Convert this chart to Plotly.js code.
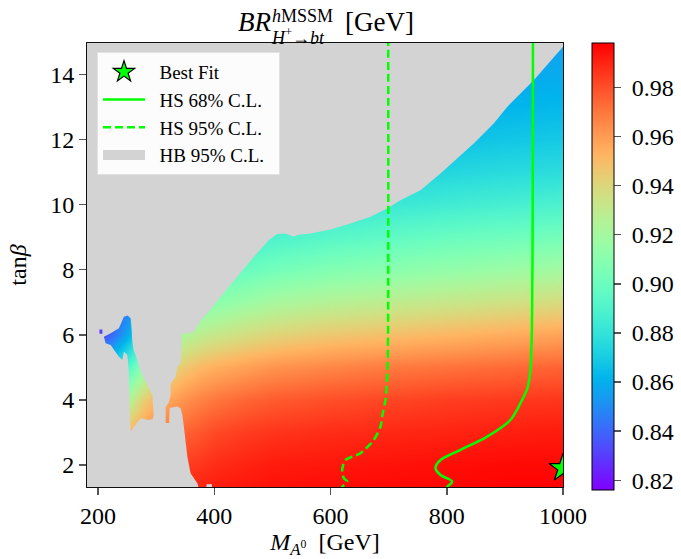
<!DOCTYPE html>
<html>
<head>
<meta charset="utf-8">
<script src="https://cdn.plot.ly/plotly-3.0.1.min.js"></script>
<style>html,body{margin:0;padding:0;background:#fff}</style>
</head>
<body>
<div id="chart" style="width:681px;height:559px"></div>
<script>
// Grid of BR(H+ -> bt) values in the hMSSM, one column per M_A value, rows tan(beta) = 1..15
const gridMA = [180, 200, 225, 250, 275, 300, 325, 350, 375, 400, 450, 500, 600, 700, 800, 900, 1000];
const gridTanB = [1, 2, 3, 4, 5, 6, 7, 8, 9, 10, 11, 12, 13, 14, 15];
const brByMA = [
  [0.955, 0.940, 0.915, 0.885, 0.852, 0.822, 0.818, 0.818, 0.818, 0.818, 0.818, 0.818, 0.818, 0.818, 0.818],
  [0.962, 0.947, 0.925, 0.895, 0.862, 0.828, 0.820, 0.820, 0.820, 0.820, 0.820, 0.820, 0.820, 0.820, 0.820],
  [0.970, 0.957, 0.937, 0.910, 0.875, 0.842, 0.830, 0.826, 0.824, 0.823, 0.822, 0.822, 0.822, 0.822, 0.822],
  [0.977, 0.966, 0.950, 0.922, 0.890, 0.858, 0.842, 0.834, 0.830, 0.828, 0.827, 0.826, 0.826, 0.826, 0.826],
  [0.982, 0.973, 0.960, 0.942, 0.912, 0.880, 0.858, 0.845, 0.838, 0.834, 0.832, 0.831, 0.830, 0.830, 0.830],
  [0.985, 0.978, 0.966, 0.953, 0.930, 0.900, 0.877, 0.862, 0.852, 0.846, 0.842, 0.840, 0.839, 0.838, 0.838],
  [0.988, 0.982, 0.971, 0.958, 0.940, 0.914, 0.891, 0.876, 0.865, 0.857, 0.852, 0.849, 0.847, 0.846, 0.845],
  [0.990, 0.984, 0.975, 0.963, 0.946, 0.924, 0.903, 0.888, 0.876, 0.866, 0.860, 0.855, 0.852, 0.850, 0.848],
  [0.991, 0.986, 0.978, 0.967, 0.951, 0.929, 0.908, 0.892, 0.879, 0.869, 0.862, 0.857, 0.853, 0.851, 0.849],
  [0.993, 0.988, 0.981, 0.970, 0.954, 0.932, 0.911, 0.895, 0.882, 0.871, 0.863, 0.857, 0.853, 0.851, 0.849],
  [0.994, 0.990, 0.984, 0.974, 0.958, 0.937, 0.916, 0.899, 0.885, 0.874, 0.865, 0.858, 0.854, 0.851, 0.849],
  [0.995, 0.992, 0.986, 0.977, 0.962, 0.941, 0.921, 0.903, 0.889, 0.877, 0.867, 0.860, 0.856, 0.853, 0.850],
  [0.996, 0.993, 0.988, 0.980, 0.966, 0.946, 0.926, 0.908, 0.893, 0.880, 0.870, 0.863, 0.858, 0.855, 0.852],
  [0.997, 0.994, 0.989, 0.982, 0.969, 0.949, 0.929, 0.911, 0.896, 0.883, 0.872, 0.865, 0.860, 0.856, 0.853],
  [0.997, 0.995, 0.990, 0.984, 0.971, 0.952, 0.932, 0.914, 0.899, 0.885, 0.874, 0.866, 0.861, 0.857, 0.854],
  [0.998, 0.996, 0.991, 0.985, 0.973, 0.955, 0.935, 0.917, 0.901, 0.887, 0.876, 0.868, 0.862, 0.858, 0.855],
  [0.998, 0.996, 0.992, 0.986, 0.975, 0.958, 0.938, 0.920, 0.903, 0.889, 0.877, 0.869, 0.863, 0.859, 0.856]
];

// HiggsBounds 95% C.L. excluded region: outer boundary (counter-clockwise)
const hbOuterMA = [150, 378.0, 370.8, 359.2, 353.6, 347.7, 345.0, 342.0, 336.4, 323.1, 322.3, 316.3, 316.3, 321.4,
  324.9, 324.9, 333.4, 336.4, 342.0, 343.3, 343.8, 359.2, 364.9, 367.8, 382.1, 388.0, 410.8, 439.6, 468.1,
  493.9, 508.3, 522.6, 536.9, 542.7, 565.6, 600.0, 634.4, 668.8, 697.5, 720.4, 754.8, 789.2, 846.4, 880.8,
  903.9, 949.6, 1001.2, 1050, 1050, 150];
const hbOuterTanB = [1.0, 1.0, 1.438, 1.745, 2.255, 3.176, 3.536, 3.741, 3.791, 3.751, 3.290, 3.290, 3.781, 3.904,
  4.150, 4.488, 4.712, 5.019, 5.133, 5.532, 6.023, 6.063, 6.094, 6.199, 6.555, 6.659, 7.169, 7.783, 8.398,
  8.911, 9.095, 9.116, 9.012, 9.064, 9.116, 9.239, 9.423, 9.626, 9.884, 10.139, 10.446, 10.959, 11.880, 12.494,
  13.004, 13.824, 14.880, 14.9, 16, 16];
// small excluded notch at the bottom edge
const hbNotchMA = [385.0, 399.0, 395.5, 386.8];
const hbNotchTanB = [1.0, 1.0, 1.416, 1.401];
// allowed island near M_A ~ 250 GeV (clockwise, cut out of the excluded region)
const islandMA = [244.5, 250.9, 256.1, 257.8, 259.0, 261.2, 264.7, 273.3, 284.8, 293.4, 295.6, 293.9, 287.5,
  273.3, 261.7, 256.1, 255.2, 254.3, 253.1, 250.4, 244.5, 241.8, 235.9, 221.7, 213.1, 210.1, 221.7, 235.9];
const islandTanB = [6.555, 6.592, 6.506, 6.146, 5.787, 5.532, 5.378, 4.866, 4.457, 4.150, 3.536, 3.413, 3.382,
  3.434, 3.176, 3.023, 3.382, 3.637, 4.866, 5.378, 5.480, 5.225, 5.326, 5.685, 5.738, 5.940, 6.045, 6.198];
// tiny allowed spot at low M_A (clockwise)
const spotMA = [202.5, 207.5, 207.5, 202.5];
const spotTanB = [6.16, 6.16, 6.03, 6.03];

// HiggsSignals contours
const hs68MA = [948.3, 948.3, 947.9, 946.5, 943.9, 938.8, 929.7, 909.5, 869.5, 823.6, 789.2, 780.6, 789.2, 809.3, 800.7, 797.0];
const hs68TanB = [15.5, 14.96, 10.14, 6.15, 4.92, 4.36, 4.00, 3.38, 2.87, 2.46, 2.15, 1.90, 1.69, 1.49, 1.32, 1.2];
const hs95MA = [699.2, 699.2, 698.0, 694.6, 689.4, 686.0, 674.5, 651.6, 625.8, 620.1, 622.9, 628.7, 620.1, 617.0];
const hs95TanB = [15.5, 7.07, 4.92, 4.00, 3.54, 3.18, 2.77, 2.36, 2.15, 1.85, 1.59, 1.49, 1.32, 1.2];

// best-fit point
const bestMA = [1000];
const bestTanB = [1.9];

const cbTicks = [0.82, 0.84, 0.86, 0.88, 0.90, 0.92, 0.94, 0.96, 0.98];
const xTicks = [200, 400, 600, 800, 1000];
const yTicks = [2, 4, 6, 8, 10, 12, 14];

// matplotlib-style "rainbow" colour map
const rainbow = [
  [0.00, 'rgb(128,0,255)'], [0.05, 'rgb(102,40,254)'], [0.10, 'rgb(77,79,252)'], [0.15, 'rgb(51,116,248)'],
  [0.20, 'rgb(26,150,242)'], [0.25, 'rgb(0,180,236)'], [0.30, 'rgb(26,206,227)'], [0.35, 'rgb(51,227,217)'],
  [0.40, 'rgb(77,242,206)'], [0.45, 'rgb(102,252,194)'], [0.50, 'rgb(128,255,180)'], [0.55, 'rgb(153,252,166)'],
  [0.60, 'rgb(179,242,150)'], [0.65, 'rgb(204,227,133)'], [0.70, 'rgb(230,206,116)'], [0.75, 'rgb(255,180,98)'],
  [0.80, 'rgb(255,150,79)'], [0.85, 'rgb(255,116,59)'], [0.90, 'rgb(255,79,40)'], [0.95, 'rgb(255,40,20)'],
  [1.00, 'rgb(255,0,0)']
];

// rows of z are tan(beta), columns are M_A
const zRows = gridTanB.map((_, j) => brByMA.map(col => col[j]));

function joinRings(rings) {
  const xs = [], ys = [];
  rings.forEach((r, i) => {
    if (i) { xs.push(null); ys.push(null); }
    xs.push(...r[0]); ys.push(...r[1]);
  });
  return [xs, ys];
}
const [hbX, hbY] = joinRings([
  [hbOuterMA, hbOuterTanB], [hbNotchMA, hbNotchTanB], [islandMA, islandTanB], [spotMA, spotTanB]
]);

const FONT = 'Liberation Serif, Times New Roman, serif';
const GREEN = 'rgb(0,255,0)';
const GRAY = '#d3d3d3';
const SP = '\u00a0\u00a0';

const traces = [
  {
    type: 'heatmap', x: gridMA, y: gridTanB, z: zRows, zsmooth: 'best',
    colorscale: rainbow, zmin: 0.816, zmax: 0.998, showlegend: false, hoverinfo: 'skip',
    colorbar: {
      x: 1.061, xanchor: 'left', xpad: 0, y: -0.007, yanchor: 'bottom', ypad: 0,
      len: 447, lenmode: 'pixels', thickness: 22, outlinewidth: 1, outlinecolor: '#000',
      tickvals: cbTicks, ticktext: cbTicks.map(v => '\u00a0' + v.toFixed(2)),
      ticks: 'outside', ticklen: 7, tickcolor: '#555', tickwidth: 1.5,
      tickfont: {family: FONT, size: 24, color: '#000'}
    }
  },
  {
    type: 'scatter', mode: 'none', x: hbX, y: hbY, fill: 'toself', fillcolor: GRAY,
    showlegend: false, hoverinfo: 'skip'
  },
  {
    // legend swatch for the excluded region
    type: 'scatter', mode: 'lines', x: [null], y: [null], line: {color: GRAY, width: 15},
    name: SP + 'HB 95% C.L.' + SP, legendgroup: 'hb', legendrank: 4
  },
  {
    type: 'scatter', mode: 'lines', x: hs68MA, y: hs68TanB,
    line: {color: GREEN, width: 2.5, shape: 'spline', smoothing: 0.8},
    name: SP + 'HS 68% C.L.' + SP, legendgroup: 'hs68', legendrank: 2
  },
  {
    type: 'scatter', mode: 'lines', x: hs95MA, y: hs95TanB,
    line: {color: GREEN, width: 2.5, dash: '8px,4px', shape: 'spline', smoothing: 0.8},
    name: SP + 'HS 95% C.L.' + SP, legendgroup: 'hs95', legendrank: 3
  },
  {
    type: 'scatter', mode: 'markers', x: bestMA, y: bestTanB,
    marker: {symbol: 'star', size: 21, color: GREEN, line: {color: '#000', width: 1.2}},
    name: SP + 'Best Fit', legendgroup: 'best', legendrank: 1
  }
];

// plot-area geometry in pixels, used to place the title pieces
const M = {l: 87, r: 118, t: 43, b: 72, autoexpand: false};
const W = 681, H = 559;
const pw = W - M.l - M.r, ph = H - M.t - M.b;
const px = v => (v - M.l) / pw;
const py = v => (H - M.b - v) / ph;

const titleParts = [
  {text: '<i>BR</i>', x: px(236), y: py(22), size: 27},
  {text: '<i>h</i>MSSM', x: px(270), y: py(15.5), size: 18},
  {text: '<i>H</i><sup>+</sup>\u2192<i>bt</i>', x: px(269), y: py(37), size: 18},
  {text: '[GeV]', x: px(343), y: py(22), size: 27}
];

const layout = {
  width: W, height: H, margin: M,
  paper_bgcolor: '#fff', plot_bgcolor: '#fff',
  font: {family: FONT, color: '#000'},
  showlegend: true,
  legend: {
    x: px(97), y: py(52), xanchor: 'left', yanchor: 'top',
    bgcolor: 'rgba(255,255,255,0.92)', bordercolor: '#e2e2e2', borderwidth: 1,
    font: {family: FONT, size: 19, color: '#000'}, itemwidth: 42, tracegroupgap: 7,
    traceorder: 'normal'
  },
  xaxis: {
    range: [181, 1000], tickvals: xTicks, ticks: 'outside', ticklen: 7, tickwidth: 1.5, tickcolor: '#555',
    showline: true, linecolor: '#111', linewidth: 1, mirror: true, showgrid: false, zeroline: false,
    tickfont: {family: FONT, size: 24, color: '#000'},
    title: {text: '<i>M</i><sub><i>A</i><sup>0</sup></sub>\u00a0\u00a0[GeV]', font: {family: FONT, size: 24, color: '#000'}, standoff: 8}
  },
  yaxis: {
    range: [1.32, 14.97], tickvals: yTicks, ticks: 'outside', ticklen: 7, tickwidth: 1.5, tickcolor: '#555',
    showline: true, linecolor: '#111', linewidth: 1, mirror: true, showgrid: false, zeroline: false,
    tickfont: {family: FONT, size: 24, color: '#000'},
    title: {text: 'tan<i>\u03b2</i>', font: {family: FONT, size: 24, color: '#000'}, standoff: 16}
  },
  annotations: titleParts.map(p => ({
    text: p.text, x: p.x, y: p.y, xref: 'paper', yref: 'paper', xanchor: 'left', yanchor: 'middle',
    showarrow: false, font: {family: FONT, size: p.size, color: '#000'}
  }))
};

Plotly.newPlot('chart', traces, layout, {displayModeBar: false, staticPlot: true});
</script>
</body>
</html>
